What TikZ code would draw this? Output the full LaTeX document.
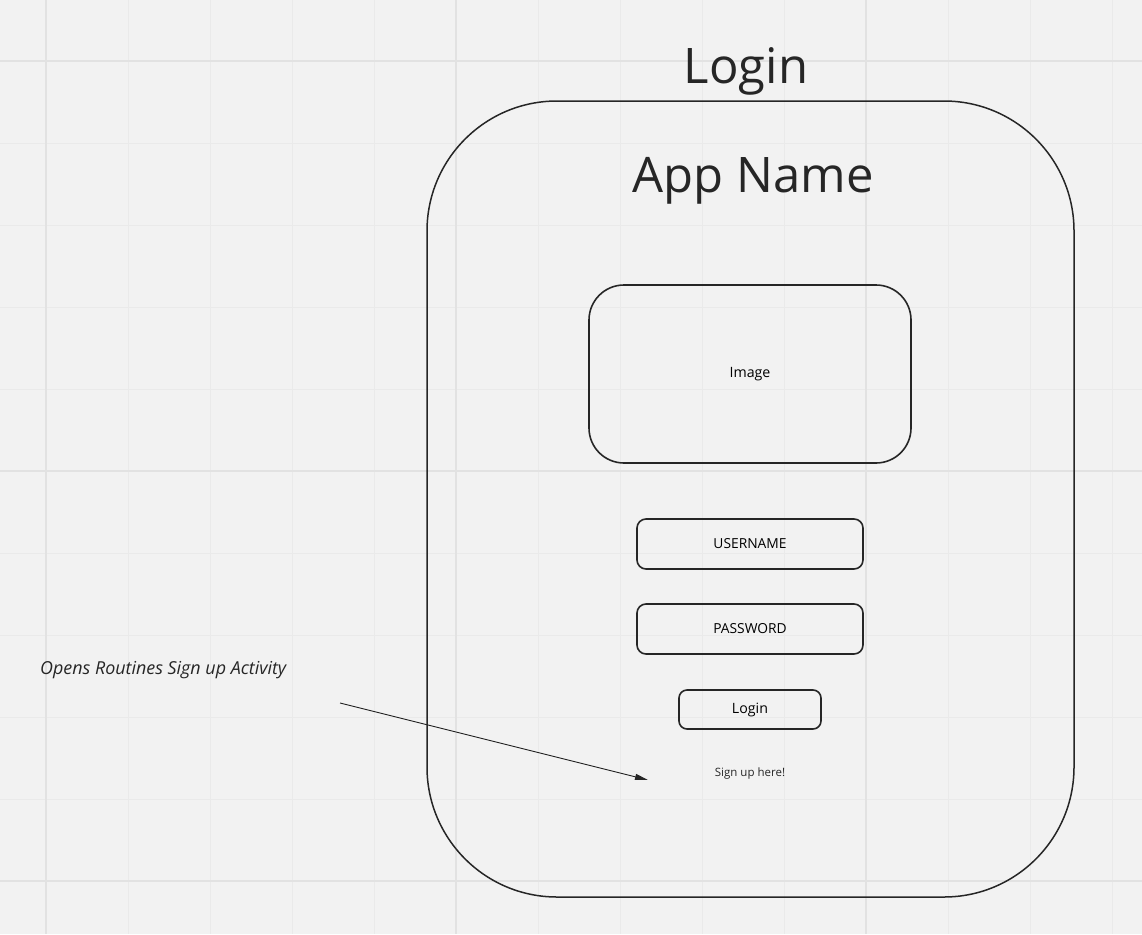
\documentclass[tikz,border=0pt]{standalone}
\usepackage{fontspec}
\setmainfont{Open Sans}
\usetikzlibrary{arrows.meta}
\definecolor{tlo}{HTML}{F2F2F2}
\definecolor{siatka}{HTML}{EAEAEA}
\definecolor{siatkamocna}{HTML}{E2E2E2}
\definecolor{linia}{HTML}{262626}

\begin{document}
\begin{tikzpicture}[x=1pt, y=-1pt, pole/.style = {draw=linia, line width=1.6pt, rounded corners=9pt, minimum width=226pt, minimum height=50pt, inner sep=0pt, font=\fontsize{13.8}{16}\selectfont}, przycisk/.style = {pole, rounded corners=8pt, minimum width=142pt, minimum height=39pt}, tytul/.style = {anchor=base, text=linia, font=\fontsize{49}{58}\selectfont}, strzalka/.style = {draw=linia, line width=0.9pt, -{Triangle[length=13pt, width=6pt]}}]

    % 1. Tło i siatka
    \fill[tlo] (0,0) rectangle (1142,934);
    \useasboundingbox (0,0) rectangle (1142,934);
    \foreach \k in {0,...,13} \draw[siatka, line width=1pt] (46+82*\k,0) -- (46+82*\k,934);
    \foreach \k in {0,...,10} \draw[siatka, line width=1pt] (0,61+82*\k) -- (1142,61+82*\k);
    \foreach \k in {0,5,10} \draw[siatkamocna, line width=2pt] (46+82*\k,0) -- (46+82*\k,934);
    \foreach \k in {0,5,10} \draw[siatkamocna, line width=2pt] (0,61+82*\k) -- (1142,61+82*\k);

    % 2. Ekran aplikacji
    \node[draw=linia, line width=1.5pt, rounded corners=130pt, minimum width=647pt, minimum height=796pt, inner sep=0pt] (ekran) at (750.5,499) {};
    \node[tytul] (tytul) at (746,83) {Login};
    \node[tytul] (nazwa) at (753,192) {App Name};
    \node[pole, rounded corners=35pt, minimum width=322pt, minimum height=178pt, font=\fontsize{14.2}{17}\selectfont] (obraz) at (750,374) {Image};
    \node[pole] (uzytkownik) at (750,544) {USERNAME};
    \node[pole] (haslo) at (750,629) {PASSWORD};
    \node[przycisk, font=\fontsize{14.2}{17}\selectfont] (zaloguj) at (750,709.5) {Login};
    \node[font=\fontsize{11.5}{14}\selectfont, text=linia] (rejestracja) at (750,774) {Sign up here!};

    % 3. Opis i strzałka
    \node[anchor=west, inner sep=0pt, text=linia, font=\itshape\fontsize{17.9}{21}\selectfont] (opis) at (40,670) {Opens Routines Sign up Activity};
    \coordinate (start) at (340,703);
    \coordinate (cel) at (648,780);
    \draw[strzalka] (start) -- (cel);
\end{tikzpicture}
\end{document}
